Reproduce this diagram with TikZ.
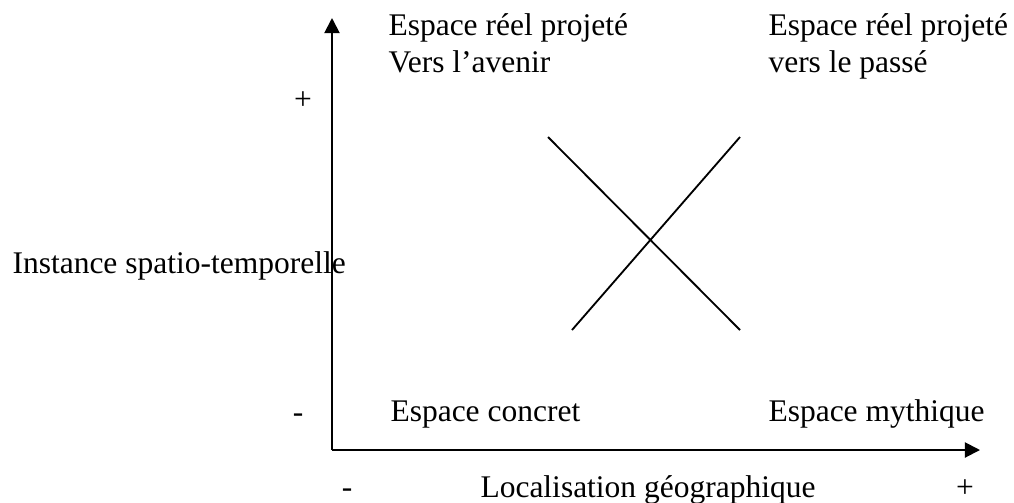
\documentclass[tikz,border=0pt]{standalone}
\usepackage{fontspec}
\setmainfont{Liberation Serif}
\usetikzlibrary{arrows.meta}
\tikzset{
  % Axes
  axisarr/.style={-{Triangle[length=5.8pt,width=5.8pt]}, line width=0.75pt, black},
  % Cross
  crossln/.style={line width=0.7pt, black},
  % Text labels
  lbl/.style={anchor=base west, inner sep=0pt, align=left,
    font=\fontsize{12pt}{14.1pt}\selectfont},
  sgn/.style={anchor=base, inner sep=0pt,
    font=\fontsize{12pt}{14.1pt}\selectfont},
}

\begin{document}
\begin{tikzpicture}[x=0.381pt, y=-0.381pt]
  \useasboundingbox (0,0) rectangle (1014,502);

  %% Axes
  \coordinate (o) at (332,450);
  \coordinate (ytop) at (332,18);
  \coordinate (xend) at (980,450);
  \draw[axisarr] (o) -- (ytop);
  \draw[axisarr] (o) -- (xend);

  %% Cross
  \coordinate (c1) at (548,137);
  \coordinate (c2) at (740,330);
  \coordinate (c3) at (572,330);
  \coordinate (c4) at (740,137);
  \draw[crossln] (c1) -- (c2);
  \draw[crossln] (c3) -- (c4);

  %% Corner labels (base = last line)
  \node[lbl] (futur) at (388,72) {Espace réel projeté\\Vers l’avenir};
  \node[lbl] (passe) at (768,72) {Espace réel projeté\\vers le passé};
  \node[lbl] (concret) at (390,421) {Espace concret};
  \node[lbl] (mythe) at (768,421) {Espace mythique};

  %% Axis titles
  \node[lbl] (ytitle) at (12,273) {Instance spatio-temporelle};
  \node[lbl] (xtitle) at (480,497) {Localisation géographique};

  %% Signs
  \node[sgn] (yplus) at (303,109) {+};
  \node[sgn] (yminus) at (298,422) {-};
  \node[sgn] (xminus) at (347,497) {-};
  \node[sgn] (xplus) at (965,497) {+};

\end{tikzpicture}
\end{document}
